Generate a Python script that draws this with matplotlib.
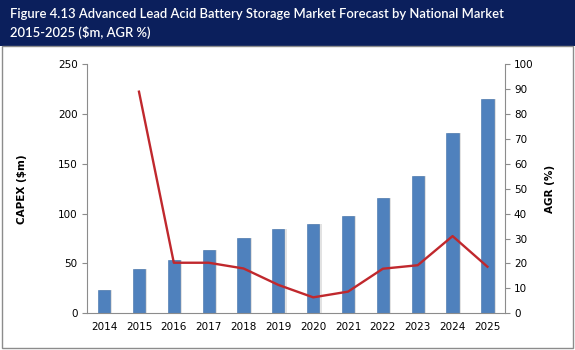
import matplotlib
matplotlib.use("Agg")
import matplotlib.pyplot as plt
from matplotlib.patches import Rectangle

years = ["2014", "2015", "2016", "2017", "2018", "2019", "2020", "2021", "2022", "2023", "2024", "2025"]
capex = [23, 44, 53, 64, 76, 85, 90, 98, 116, 138, 181, 215]
agr_years = ["2015", "2016", "2017", "2018", "2019", "2020", "2021", "2022", "2023", "2024", "2025"]
agr = [89, 20.3, 20.3, 18, 11.4, 6.4, 8.7, 17.9, 19.3, 31, 18.7]

title = "Figure 4.13 Advanced Lead Acid Battery Storage Market Forecast by National Market\n2015-2025 ($m, AGR %)"

fig = plt.figure(figsize=(5.75, 3.5), dpi=100)
fig.patch.set_facecolor("white")

# header band
fig.patches.append(Rectangle((0, 0.868), 1, 0.132, transform=fig.transFigure,
                             facecolor="#0B1F5C", edgecolor="none", zorder=0))
fig.text(0.017, 0.932, title, color="white", fontsize=9.4, family=["Lato", "DejaVu Sans"],
         fontweight="semibold", va="center", ha="left", linespacing=1.55)
# chart border
fig.patches.append(Rectangle((0.004, 0.005), 0.992, 0.863, transform=fig.transFigure,
                             facecolor="none", edgecolor="#8C8C8C", linewidth=1.0, zorder=0))

ax = fig.add_axes([0.1508, 0.1049, 0.7272, 0.7114])
x = list(range(len(years)))
ax.bar([i + 0.06 for i in x], capex, width=0.36, color="#E2E2E2", zorder=1)
ax.bar(x, capex, width=0.35, color="#4F81BD", edgecolor="#3F6FA8", linewidth=0.4, zorder=2)
ax.set_xlim(-0.5, len(years) - 0.5)
ax.set_ylim(0, 250)
ax.set_yticks(range(0, 251, 50))
ax.set_xticks(x)
ax.set_xticklabels(years)
ax.tick_params(axis="x", length=0, labelsize=7.5, pad=6)
ax.tick_params(axis="y", length=3.5, color="#8C8C8C", labelsize=7.5, pad=3, direction="out")
for s in ["top", "right"]:
    ax.spines[s].set_visible(False)
for s in ["left", "bottom"]:
    ax.spines[s].set_color("#8C8C8C")
    ax.spines[s].set_linewidth(0.8)
ax.set_ylabel("CAPEX ($m)", fontsize=7.5, fontweight="bold", labelpad=22)

ax2 = ax.twinx()
xi = [years.index(y) for y in agr_years]
ax2.plot(xi, agr, color="#C0282D", linewidth=1.7, zorder=3)
ax2.set_ylim(0, 100)
ax2.set_yticks(range(0, 101, 10))
ax2.tick_params(axis="y", length=3.5, color="#8C8C8C", labelsize=7.5, pad=3, direction="out")
for s in ["top", "left", "bottom"]:
    ax2.spines[s].set_visible(False)
ax2.spines["right"].set_color("#8C8C8C")
ax2.spines["right"].set_linewidth(0.8)
ax2.set_ylabel("AGR (%)", fontsize=7.5, fontweight="bold", labelpad=8)

fig.savefig("out.png", dpi=100)
